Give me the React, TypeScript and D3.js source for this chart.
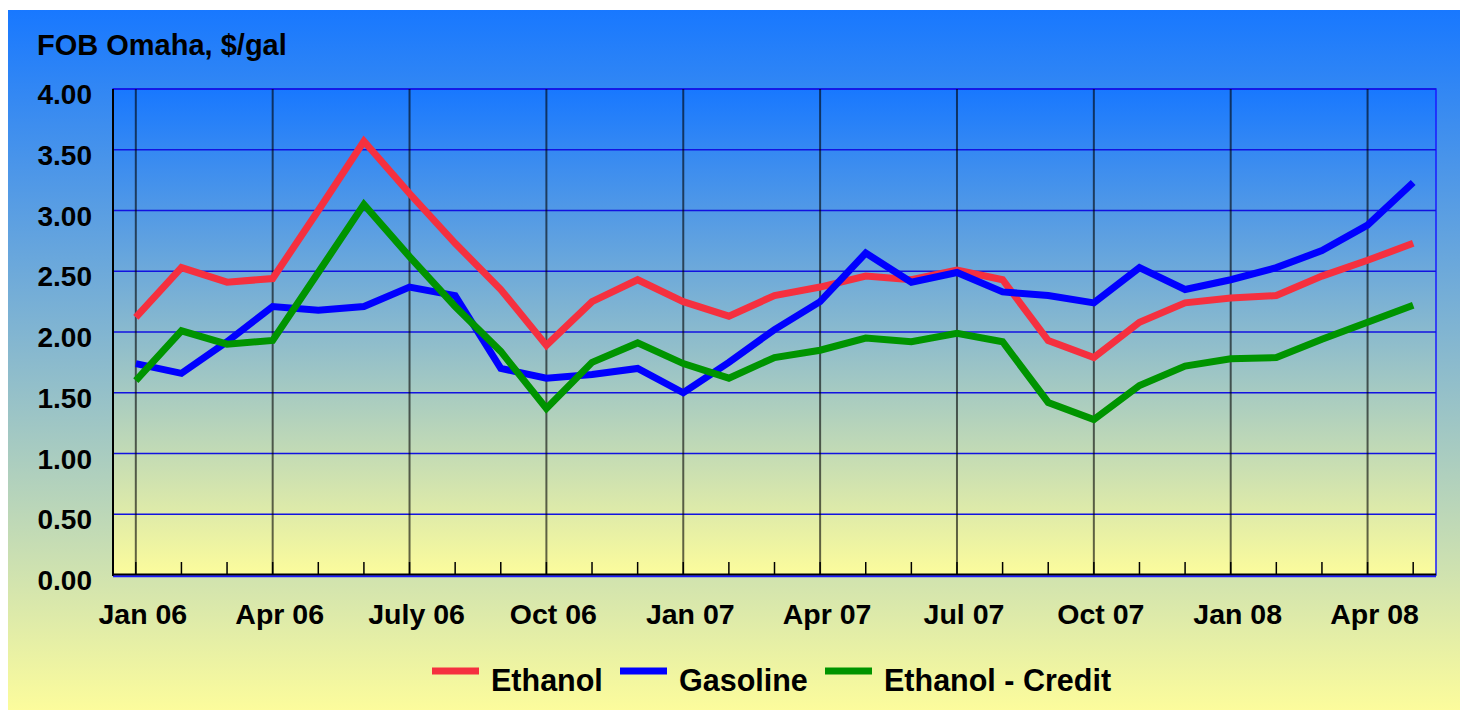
import React, { useRef, useEffect } from 'react';
import * as d3 from 'd3';

// monthly points, Jan 06 .. May 08
const months = [
	'Jan 06', 'Feb 06', 'Mar 06', 'Apr 06', 'May 06', 'Jun 06', 'Jul 06', 'Aug 06', 'Sep 06', 'Oct 06', 'Nov 06', 'Dec 06',
	'Jan 07', 'Feb 07', 'Mar 07', 'Apr 07', 'May 07', 'Jun 07', 'Jul 07', 'Aug 07', 'Sep 07', 'Oct 07', 'Nov 07', 'Dec 07',
	'Jan 08', 'Feb 08', 'Mar 08', 'Apr 08', 'May 08',
];

const ethanol = [
	2.12, 2.53, 2.41, 2.44, 3.00, 3.57, 3.14, 2.73, 2.35, 1.89, 2.25, 2.43,
	2.25, 2.13, 2.30, 2.37, 2.46, 2.43, 2.51, 2.43, 1.93, 1.79, 2.08, 2.24,
	2.28, 2.30, 2.46, 2.59, 2.73,
];

const gasoline = [
	1.74, 1.66, 1.92, 2.21, 2.18, 2.21, 2.37, 2.30, 1.70, 1.62, 1.65, 1.70,
	1.50, 1.75, 2.02, 2.25, 2.65, 2.41, 2.49, 2.33, 2.30, 2.24, 2.53, 2.35,
	2.43, 2.53, 2.67, 2.88, 3.23,
];

const ethanolCredit = [
	1.60, 2.01, 1.90, 1.93, 2.49, 3.05, 2.62, 2.21, 1.84, 1.37, 1.75, 1.91,
	1.74, 1.62, 1.79, 1.85, 1.95, 1.92, 1.99, 1.92, 1.42, 1.28, 1.56, 1.72,
	1.78, 1.79, 1.94, 2.08, 2.22,
];

// labelled months (quarters) and their axis text
const quarterMonths = ['Jan 06', 'Apr 06', 'Jul 06', 'Oct 06', 'Jan 07', 'Apr 07', 'Jul 07', 'Oct 07', 'Jan 08', 'Apr 08'];
const quarterLabels = ['Jan 06', 'Apr 06', 'July 06', 'Oct 06', 'Jan 07', 'Apr 07', 'Jul 07', 'Oct 07', 'Jan 08', 'Apr 08'];

const yTicks = [0, 0.5, 1, 1.5, 2, 2.5, 3, 3.5, 4];

const seriesNames = ['Ethanol', 'Gasoline', 'Ethanol - Credit'];
const seriesColors = ['#f5303f', '#0000ff', '#009400'];

const App: React.FC = () => {
	const svgRef = useRef<SVGSVGElement | null>(null);

	useEffect(() => {
		if (!svgRef.current) return;

		const W = 1460, H = 710;
		const plot = { left: 113, right: 1436, top: 89, bottom: 575 };
		const font = '"Liberation Sans", Arial, sans-serif';

		const svg = d3.select(svgRef.current);
		svg.selectAll('*').remove();

		const defs = svg.append('defs');
		const grad = (id: string) => {
			const g = defs.append('linearGradient').attr('id', id)
				.attr('x1', 0).attr('y1', 0).attr('x2', 0).attr('y2', 1);
			g.append('stop').attr('offset', '0%').attr('stop-color', '#1878ff');
			g.append('stop').attr('offset', '100%').attr('stop-color', '#fcfc9c');
		};
		grad('bgOuter');
		grad('bgPlot');

		// page background
		svg.append('rect').attr('width', W).attr('height', H).attr('fill', '#fff');
		svg.append('rect').attr('x', 8).attr('y', 10).attr('width', W - 8).attr('height', H - 10)
			.attr('fill', 'url(#bgOuter)');

		// plot background
		svg.append('rect')
			.attr('x', plot.left).attr('y', plot.top)
			.attr('width', plot.right - plot.left).attr('height', plot.bottom - plot.top)
			.attr('fill', 'url(#bgPlot)')
			.attr('stroke', '#1a1aff').attr('stroke-width', 1.5);

		const x = d3.scalePoint<string>().domain(months).range([plot.left, plot.right]).padding(0.5);
		const y = d3.scaleLinear().domain([0, 4]).range([plot.bottom, plot.top]);

		// horizontal grid
		svg.append('g').selectAll('line').data(yTicks.slice(1)).join('line')
			.attr('x1', plot.left).attr('x2', plot.right)
			.attr('y1', d => y(d)).attr('y2', d => y(d))
			.attr('stroke', '#1212e0').attr('stroke-width', 1.5);

		// vertical grid on quarters
		svg.append('g').selectAll('line').data(quarterMonths).join('line')
			.attr('x1', d => x(d)!).attr('x2', d => x(d)!)
			.attr('y1', plot.top).attr('y2', plot.bottom)
			.attr('stroke', '#000').attr('stroke-opacity', 0.6).attr('stroke-width', 2);

		// monthly ticks
		svg.append('g').selectAll('line').data(months).join('line')
			.attr('x1', d => x(d)!).attr('x2', d => x(d)!)
			.attr('y1', plot.bottom - 13).attr('y2', plot.bottom)
			.attr('stroke', '#000').attr('stroke-width', 1.5);

		// axis lines
		svg.append('line').attr('x1', plot.left).attr('x2', plot.left).attr('y1', plot.top).attr('y2', plot.bottom + 1)
			.attr('stroke', '#000').attr('stroke-width', 2);
		svg.append('line').attr('x1', plot.left).attr('x2', plot.right).attr('y1', plot.bottom - 0.5).attr('y2', plot.bottom - 0.5)
			.attr('stroke', '#000').attr('stroke-width', 2);
		svg.append('line').attr('x1', plot.left).attr('x2', plot.right).attr('y1', plot.bottom + 1.5).attr('y2', plot.bottom + 1.5)
			.attr('stroke', '#1a1aff').attr('stroke-width', 1.5);

		// y labels
		svg.append('g').selectAll('text').data(yTicks).join('text')
			.attr('x', 92).attr('y', d => y(d) + 15)
			.attr('text-anchor', 'end')
			.style('font', `bold 28px ${font}`)
			.text(d => d3.format('.2f')(d));

		// x labels
		svg.append('g').selectAll('text').data(quarterMonths).join('text')
			.attr('x', d => x(d)! + 7).attr('y', 624)
			.attr('text-anchor', 'middle')
			.style('font', `bold 28.5px ${font}`)
			.text((d, i) => quarterLabels[i]);

		// title
		svg.append('text').attr('x', 37).attr('y', 55)
			.style('font', `bold 29px ${font}`)
			.text('FOB Omaha, $/gal');

		// series lines
		const line = d3.line<number>()
			.x((d, i) => x(months[i])!)
			.y(d => y(d));

		[ethanol, gasoline, ethanolCredit].forEach((s, k) => {
			svg.append('path')
				.attr('d', line(s)!)
				.attr('fill', 'none')
				.attr('stroke', seriesColors[k])
				.attr('stroke-width', 7)
				.attr('stroke-linejoin', 'miter');
		});

		// legend
		const legendX = [432, 620, 825];
		const lg = svg.append('g');
		seriesNames.forEach((name, k) => {
			lg.append('line')
				.attr('x1', legendX[k]).attr('x2', legendX[k] + 47)
				.attr('y1', 671).attr('y2', 671)
				.attr('stroke', seriesColors[k]).attr('stroke-width', 7);
			lg.append('text')
				.attr('x', legendX[k] + 59).attr('y', 691)
				.style('font', `bold 30.5px ${font}`)
				.text(name);
		});
	}, []);

	return (
		<svg ref={svgRef} width={1460} height={710}
			style={{ position: 'absolute', left: 0, top: 0, display: 'block' }} />
	);
};

export default App;
